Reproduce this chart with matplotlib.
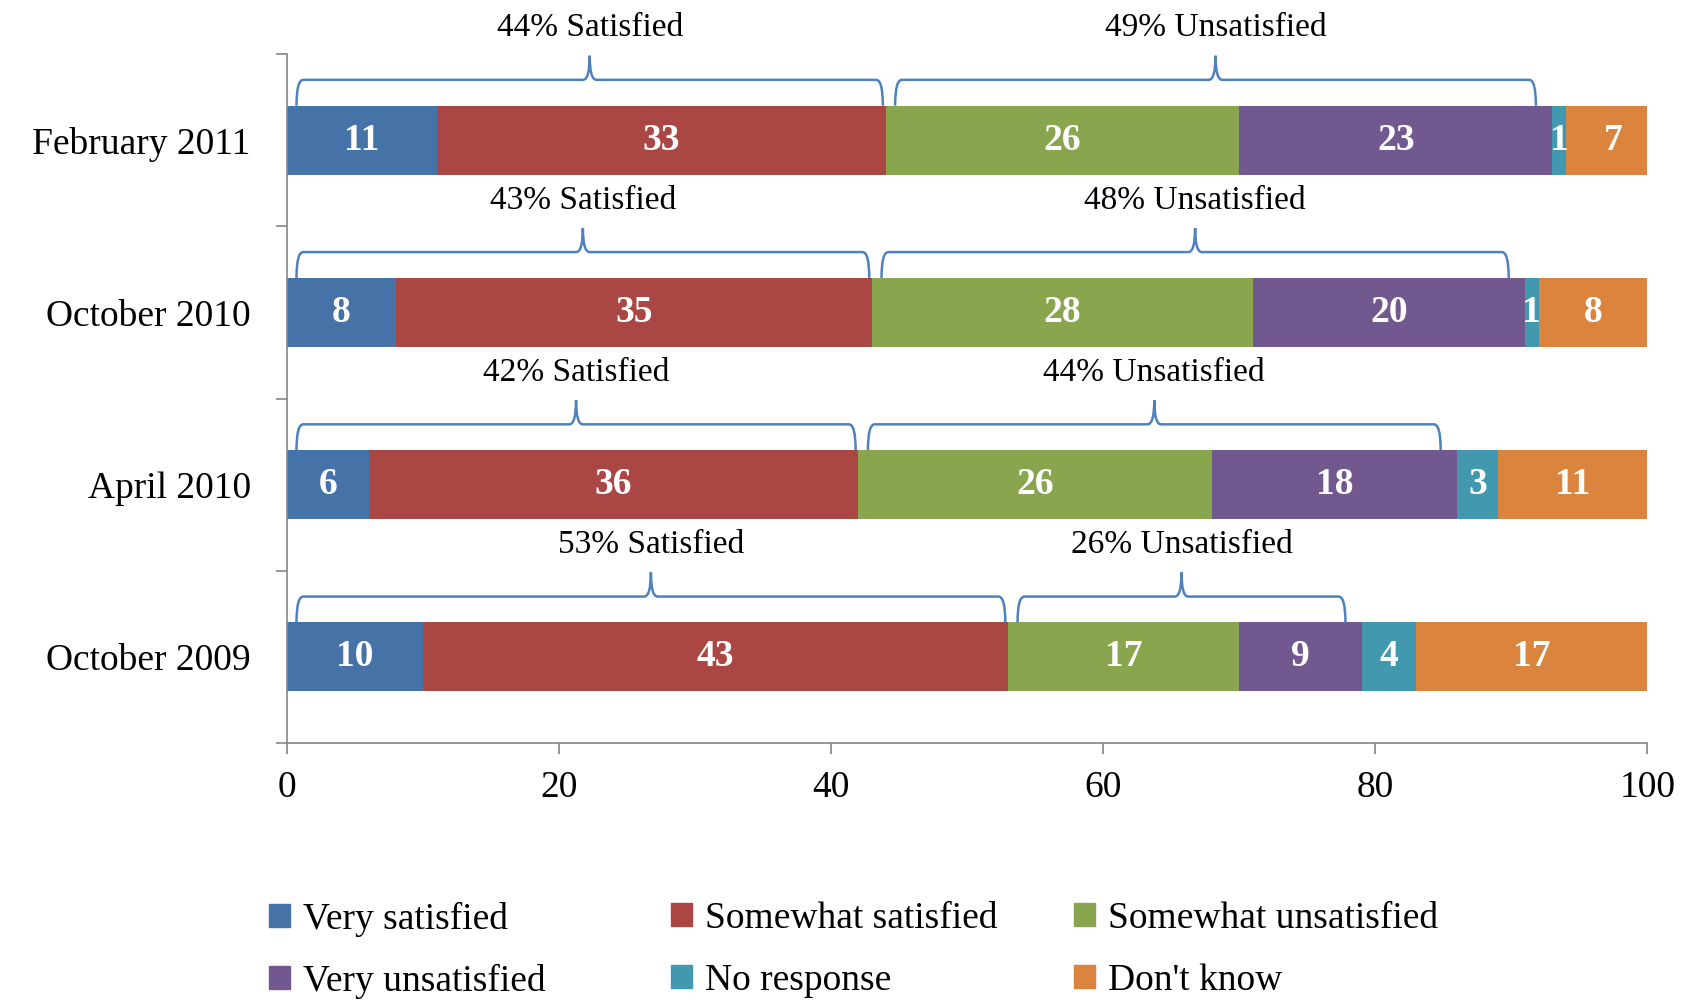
from matplotlib import pyplot as plt
from matplotlib.path import Path
from matplotlib.patches import PathPatch, Patch

###########
# the data
###########

periods = ['February 2011', 'October 2010', 'April 2010', 'October 2009']
responses = ['Very satisfied', 'Somewhat satisfied', 'Somewhat unsatisfied',
             'Very unsatisfied', 'No response', "Don't know"]
very_sat = [11, 8, 6, 10]
somewhat_sat = [33, 35, 36, 43]
somewhat_unsat = [26, 28, 26, 17]
very_unsat = [23, 20, 18, 9]
no_response = [1, 1, 3, 4]
dont_know = [7, 8, 11, 17]
satisfied_pct = [44, 43, 42, 53]
unsatisfied_pct = [49, 48, 44, 26]
xticks = [0, 20, 40, 60, 80, 100]

colors = ['#4572A7', '#AA4643', '#89A54E', '#71588F', '#4198AF', '#DB843D']
brace_color = '#4F81BD'
plt.rcParams['font.family'] = ['Liberation Serif', 'DejaVu Serif']

#################
# draw the chart
#################

fig = plt.figure(figsize=(16.88, 10), dpi=100)
ax = fig.add_axes([0.170, 0.257, 0.806, 0.689])

series = [very_sat, somewhat_sat, somewhat_unsat, very_unsat, no_response, dont_know]
ypos = [len(periods) - 1 - i for i in range(len(periods))]
bar_h = 0.4
lefts = [0] * len(periods)
for vals, col, name in zip(series, colors, responses):
    ax.barh(ypos, vals, left=lefts, height=bar_h, color=col, label=name)
    for y, v, l in zip(ypos, vals, lefts):
        ax.text(l + v / 2, y, str(v), ha='center', va='center', color='white',
                fontsize=27, fontweight='bold')
    lefts = [a + b for a, b in zip(lefts, vals)]


def brace(x0, x1, ybase, label):
    # curly brace sitting on top of a bar, from x0 to x1
    yh = ybase + 0.15
    yt = ybase + 0.29
    dx = 0.5
    xm = (x0 + x1) / 2
    verts = [(x0, ybase), (x0, yh), (x0 + dx, yh),
             (xm - dx, yh), (xm, yh), (xm, yt),
             (xm, yh), (xm + dx, yh),
             (x1 - dx, yh), (x1, yh), (x1, ybase)]
    codes = [Path.MOVETO, Path.CURVE3, Path.CURVE3,
             Path.LINETO, Path.CURVE3, Path.CURVE3,
             Path.CURVE3, Path.CURVE3,
             Path.LINETO, Path.CURVE3, Path.CURVE3]
    ax.add_patch(PathPatch(Path(verts, codes), fill=False, edgecolor=brace_color,
                           lw=1.8, clip_on=False))
    ax.text(xm, ybase + 0.45, label, ha='center', va='center', fontsize=24,
            clip_on=False)


for y, s, u in zip(ypos, satisfied_pct, unsatisfied_pct):
    top = y + bar_h / 2
    brace(0.7, s - 0.2, top, '%d%% Satisfied' % s)
    brace(s + 0.7, s + u - 1.2, top, '%d%% Unsatisfied' % u)

ax.set_xlim(0, 100)
ax.set_ylim(-0.5, len(periods) - 0.5)
ax.set_xticks(xticks)
ax.set_xticklabels([str(t) for t in xticks], fontsize=27)
ax.set_yticks(ypos)
ax.set_yticklabels(periods, fontsize=27)
ax.set_yticks([i - 0.5 for i in range(len(periods) + 1)], minor=True)
ax.tick_params(axis='y', which='major', length=0, pad=26)
ax.tick_params(axis='y', which='minor', length=8, color='#868686', width=1.2)
ax.tick_params(axis='x', length=8, color='#868686', width=1.2, pad=12)
for side in ['top', 'right']:
    ax.spines[side].set_visible(False)
for side in ['left', 'bottom']:
    ax.spines[side].set_color('#868686')
    ax.spines[side].set_linewidth(1.2)

# legend: three columns of two entries, placed one column at a time
col_x = [0.1594, 0.3975, 0.6363]
for c, x in enumerate(col_x):
    idx = [c, c + 3]
    leg = fig.legend([Patch(color=colors[i]) for i in idx], [responses[i] for i in idx],
                     loc='upper left', bbox_to_anchor=(x, 0.0985), ncol=1,
                     frameon=False, fontsize=27, handlelength=0.55, handleheight=0.55,
                     handletextpad=0.35, labelspacing=0.72, borderpad=0,
                     borderaxespad=0)

fig.savefig('out.png', dpi=100)
